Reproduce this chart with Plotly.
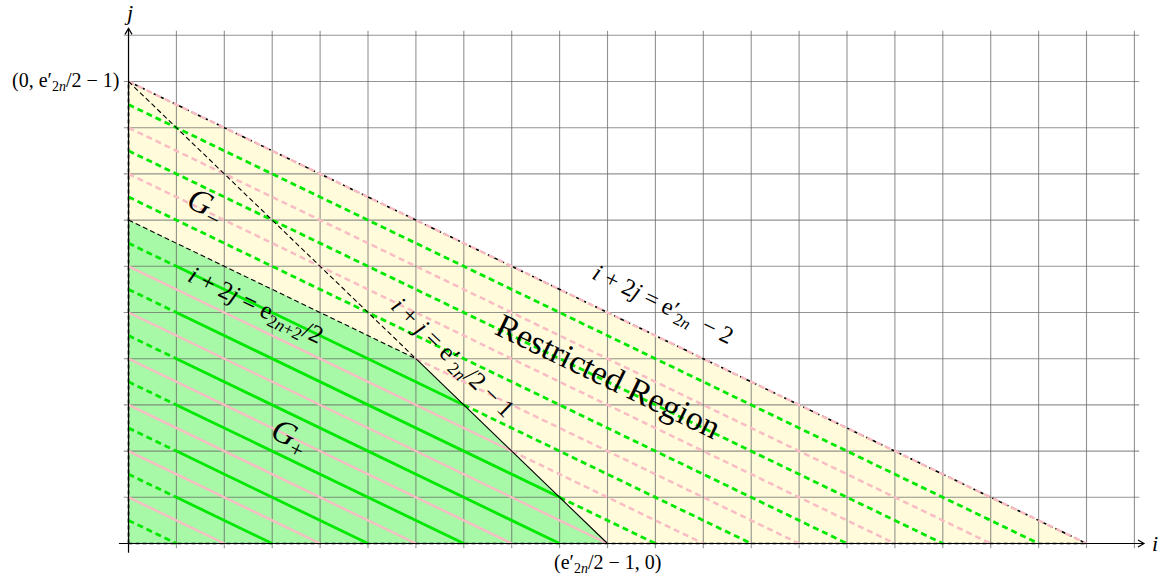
import math
import plotly.graph_objects as go

# ---------------- data ----------------
E_PRIME_2N = 22                     # e'_{2n}
E_2N2_HALF = 14                     # e_{2n+2}/2
N_MAX = E_PRIME_2N // 2 - 1         # e'_{2n}/2 - 1  -> 10
TOP_C = E_PRIME_2N - 2              # i + 2j = e'_{2n} - 2 -> 20
grid_i = list(range(0, 22))
grid_j = list(range(0, 12))
grid_i_extent = [-0.1, 21.1]
grid_j_extent = [-0.1, 11.1]
odd_levels = [1, 3, 5, 7, 9, 11, 13, 15, 17, 19]      # green hatch lines i+2j=c
even_levels = [2, 4, 6, 8, 10, 12, 14, 16, 18, 20]    # pink hatch lines i+2j=c
green_solid_from_i = 1
axis_i_extent = [-0.2, 21.2]
axis_j_extent = [-0.2, 11.15]

# ---------------- page / axis geometry ----------------
W, H = 1162, 582
X_RANGE = [-2.683, 21.576]
Y_RANGE = [-0.833, 11.764]
px_per_i = W / (X_RANGE[1] - X_RANGE[0])
px_per_j = H / (Y_RANGE[1] - Y_RANGE[0])
ANG_2J = math.degrees(math.atan(0.5 * px_per_j / px_per_i))
ANG_1J = math.degrees(math.atan(px_per_j / px_per_i))

FONT = "Liberation Serif"

# corner of G+ : intersection of i+j=N and i+2j=E
ci = 2 * N_MAX - E_2N2_HALF
cj = E_2N2_HALF - N_MAX


def add_seg(store, c, i0, i1):
    if i1 - i0 <= 1e-9:
        return
    store[0].extend([i0, i1, None])
    store[1].extend([(c - i0) / 2, (c - i1) / 2, None])


pink_solid = ([], [])
pink_dash = ([], [])
green_solid = ([], [])
green_dash = ([], [])

for c in even_levels:
    if c == TOP_C:
        add_seg(pink_dash, c, 0, c)
        continue
    if c < E_2N2_HALF:
        icross = c if c <= N_MAX else 2 * N_MAX - c
        add_seg(pink_solid, c, 0, icross)
        add_seg(pink_dash, c, icross, c)
    elif c == E_2N2_HALF:
        add_seg(pink_dash, c, ci, c)
    else:
        add_seg(pink_dash, c, 0, c)

for c in odd_levels:
    if c < E_2N2_HALF:
        icross = c if c <= N_MAX else 2 * N_MAX - c
        add_seg(green_dash, c, 0, min(green_solid_from_i, icross))
        add_seg(green_solid, c, green_solid_from_i, icross)
        add_seg(green_dash, c, icross, c)
    else:
        add_seg(green_dash, c, 0, c)

fig = go.Figure()

# fills
fig.add_trace(go.Scatter(x=[0, TOP_C, 0, 0], y=[0, 0, TOP_C / 2, 0], mode="lines",
                         fill="toself", fillcolor="#FFFBDB", line=dict(width=0),
                         hoverinfo="skip"))
fig.add_trace(go.Scatter(x=[0, N_MAX, ci, 0, 0], y=[0, 0, cj, E_2N2_HALF / 2, 0],
                         mode="lines", fill="toself", fillcolor="#A7F8A7",
                         line=dict(width=0), hoverinfo="skip"))

# grid
gx, gy = [], []
for v in grid_i:
    gx += [v, v, None]
    gy += [grid_j_extent[0], grid_j_extent[1], None]
for v in grid_j:
    gx += [grid_i_extent[0], grid_i_extent[1], None]
    gy += [v, v, None]
fig.add_trace(go.Scatter(x=gx, y=gy, mode="lines",
                         line=dict(color="rgba(105,105,105,0.72)", width=1.1),
                         hoverinfo="skip"))

# black triangle boundary (dashed)
fig.add_trace(go.Scatter(x=[0, TOP_C, None, 0, 0, None, 0, TOP_C],
                         y=[0, 0, None, 0, TOP_C / 2, None, TOP_C / 2, 0],
                         mode="lines", line=dict(color="black", width=1.6, dash="4px,3px"),
                         hoverinfo="skip"))

PINK = "rgb(249,188,196)"
GREEN = "rgb(0,232,0)"
fig.add_trace(go.Scatter(x=pink_solid[0], y=pink_solid[1], mode="lines",
                         line=dict(color=PINK, width=2.4), hoverinfo="skip"))
fig.add_trace(go.Scatter(x=pink_dash[0], y=pink_dash[1], mode="lines",
                         line=dict(color=PINK, width=2.5, dash="6px,4px"), hoverinfo="skip"))
fig.add_trace(go.Scatter(x=green_solid[0], y=green_solid[1], mode="lines",
                         line=dict(color=GREEN, width=2.8), hoverinfo="skip"))
fig.add_trace(go.Scatter(x=green_dash[0], y=green_dash[1], mode="lines",
                         line=dict(color=GREEN, width=2.8, dash="6px,4px"), hoverinfo="skip"))

# black region boundaries
fig.add_trace(go.Scatter(x=[0, ci, None, 0, ci], y=[N_MAX, cj, None, E_2N2_HALF / 2, cj],
                         mode="lines", line=dict(color="black", width=1.1, dash="5px,3px"),
                         hoverinfo="skip"))
fig.add_trace(go.Scatter(x=[ci, N_MAX], y=[cj, 0], mode="lines",
                         line=dict(color="black", width=1.1), hoverinfo="skip"))

# axes with open arrow tips
ARROW_BACK_PX, ARROW_HALF_PX = 6.0, 3.5
bi, hj = ARROW_BACK_PX / px_per_i, ARROW_HALF_PX / px_per_j
bj, hi = ARROW_BACK_PX / px_per_j, ARROW_HALF_PX / px_per_i
xa, ya = axis_i_extent[1], axis_j_extent[1]
ax_x = [axis_i_extent[0], xa, None, xa - bi, xa, xa - bi, None,
        0, 0, None, -hi, 0, hi]
ax_y = [0, 0, None, hj, 0, -hj, None,
        axis_j_extent[0], ya, None, ya - bj, ya, ya - bj]
fig.add_trace(go.Scatter(x=ax_x, y=ax_y, mode="lines", cliponaxis=False,
                         line=dict(color="black", width=1.2), hoverinfo="skip"))

annotations = []


def label(text, x, y, size, angle=0, xanchor="center", yanchor="middle", xshift=0, yshift=0):
    annotations.append(dict(x=x, y=y, xref="x", yref="y", text=text, showarrow=False,
                            textangle=angle, xanchor=xanchor, yanchor=yanchor,
                            xshift=xshift, yshift=yshift,
                            font=dict(family=FONT, size=size, color="black")))


label("<i>i</i>", 21.43, 0, 22)
label("<i>j</i>", 0, 11.5, 22)
label("(0, e′<sub>2<i>n</i></sub>/2 − 1)", 0, N_MAX, 20, xanchor="right", xshift=-8)
label("(e′<sub>2<i>n</i></sub>/2 − 1, 0)", N_MAX, 0, 20, yanchor="top", yshift=-5)
label("<i>G</i><sub>−</sub>", 1.6, 7.3, 33, angle=ANG_2J)
label("<i>G</i><sub>+</sub>", 3.37, 2.3, 33, angle=ANG_2J)
label("<i>i</i> + 2<i>j</i> = e<sub>2<i>n</i>+2</sub>/2", 2.64, 5.13, 25, angle=ANG_2J)
label("<i>i</i> + <i>j</i> = e′<sub>2<i>n</i></sub>/2 − 1", 6.75, 4.01, 25, angle=ANG_1J)
label("<i>i</i> + 2<i>j</i> = e′<sub>2<i>n</i></sub>  − 2", 11.15, 5.14, 24, angle=ANG_2J)
label("Restricted Region", 10.03, 3.61, 34, angle=ANG_2J)

fig.update_layout(
    width=W, height=H, margin=dict(l=0, r=0, t=0, b=0, pad=0),
    paper_bgcolor="white", plot_bgcolor="white", showlegend=False,
    xaxis=dict(range=X_RANGE, visible=False, fixedrange=True),
    yaxis=dict(range=Y_RANGE, visible=False, fixedrange=True),
    annotations=annotations,
)

fig.write_html("out.html", config={"displayModeBar": False},
               post_script="document.body.style.margin='0px';")
